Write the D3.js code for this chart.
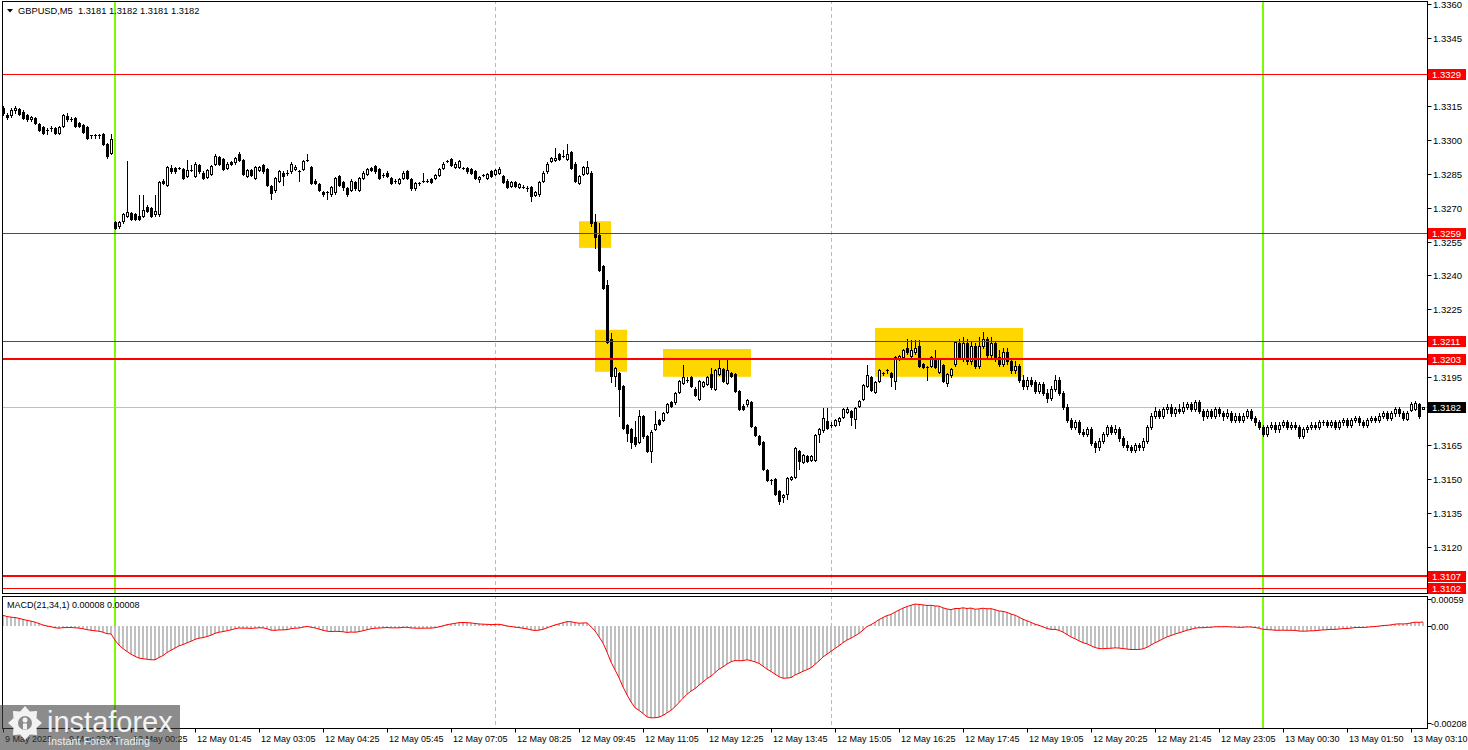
<!DOCTYPE html>
<html><head><meta charset="utf-8">
<script src="https://cdn.jsdelivr.net/npm/d3@7"></script>
<style>
body{margin:0;background:#fff;}
svg{display:block;font-family:"Liberation Sans",Arial,sans-serif;}
</style></head>
<body><svg id="c" width="1468" height="750"></svg>
<script>
// ---------------- DATA ----------------
const titleText = "GBPUSD,M5  1.3181 1.3182 1.3181 1.3182";
const macdTitle = "MACD(21,34,1) 0.00008 0.00008";
const open = [
1.3314,1.3311,1.3311,1.3313,1.33135,1.33125,1.3311,1.3309,1.33095,1.3307,
1.33055,1.33045,1.3305,1.3305,1.3303,1.3306,1.33105,1.3309,1.33095,1.33075,
1.33065,1.33055,1.3302,1.3302,1.3302,1.33025,1.3298,1.3294,1.32635,1.3262,
1.3264,1.32665,1.32675,1.3267,1.32665,1.32665,1.32705,1.327,1.3267,1.3267,
1.3282,1.328,1.32875,1.32875,1.32875,1.3287,1.3284,1.32865,1.3284,1.3289,
1.32855,1.32835,1.3285,1.32895,1.32925,1.32915,1.32875,1.329,1.329,1.32935,
1.3291,1.3284,1.32865,1.3283,1.32865,1.3289,1.3287,1.32795,1.3278,1.3282,
1.32855,1.32855,1.3286,1.3287,1.3286,1.3287,1.3291,1.3288,1.3282,1.32805,
1.3277,1.3277,1.3276,1.3277,1.3284,1.32815,1.32785,1.3278,1.32815,1.3278,
1.3283,1.3285,1.32875,1.32885,1.3287,1.32845,1.32855,1.3283,1.3282,1.3281,
1.3283,1.3286,1.32825,1.32785,1.3281,1.3282,1.3282,1.32825,1.3283,1.32845,
1.32875,1.32905,1.32915,1.3288,1.3288,1.32875,1.32875,1.3287,1.3286,1.32825,
1.32845,1.3283,1.3286,1.3285,1.32855,1.3284,1.3282,1.32795,1.32815,1.3279,
1.3279,1.32785,1.3279,1.32755,1.3276,1.3282,1.3286,1.32905,1.3291,1.32935,
1.3293,1.32915,1.32945,1.32895,1.3281,1.3285,1.32855,1.32855,1.32635,1.3258,
1.3244,1.3236,1.3212,1.31955,1.3197,1.3191,1.3174,1.3172,1.31685,1.31665,
1.3178,1.3169,1.31625,1.3172,1.3176,1.3176,1.31795,1.3184,1.3184,1.31885,
1.31925,1.3194,1.3195,1.319,1.31855,1.3191,1.3192,1.31965,1.319,1.31965,
1.31985,1.31925,1.3197,1.31965,1.3189,1.31825,1.3183,1.3184,1.3173,1.3169,
1.31665,1.3154,1.31495,1.315,1.31445,1.3142,1.31435,1.315,1.3151,1.31625,
1.31575,1.316,1.31585,1.31585,1.317,1.31715,1.31755,1.3174,1.3174,1.31755,
1.31775,1.31795,1.318,1.31765,1.31825,1.31855,1.3191,1.3195,1.31885,1.31935,
1.3197,1.3198,1.3197,1.31935,1.3203,1.3204,1.3208,1.32045,1.3206,1.3209,
1.3201,1.31995,1.32,1.3203,1.31975,1.32005,1.31925,1.3196,1.3201,1.3210,
1.3203,1.3210,1.3202,1.3209,1.3200,1.3209,1.3212,1.3205,1.3210,1.3204,
1.3201,1.3206,1.3202,1.3198,1.3200,1.3194,1.3191,1.3194,1.3193,1.3189,
1.3192,1.3188,1.3186,1.3190,1.3194,1.3188,1.3182,1.3176,1.3173,1.3175,
1.3171,1.3170,1.3172,1.3166,1.3164,1.3167,1.3170,1.3173,1.3171,1.3172,
1.3168,1.3165,1.3164,1.3163,1.3165,1.3164,1.3167,1.3173,1.3178,1.3180,
1.3178,1.3181,1.3182,1.3179,1.3181,1.3180,1.3182,1.3183,1.3181,1.3184,
1.3180,1.3178,1.3180,1.3178,1.3181,1.3179,1.3178,1.3179,1.3176,1.3178,
1.3176,1.3178,1.3180,1.3177,1.3175,1.3173,1.3170,1.3173,1.3174,1.3172,
1.3174,1.3175,1.3173,1.3174,1.3173,1.3169,1.3172,1.3173,1.3174,1.3173,
1.3175,1.3175,1.3174,1.3175,1.3173,1.3175,1.3176,1.3174,1.3176,1.3177,
1.3175,1.3174,1.3176,1.3177,1.3176,1.3178,1.3179,1.3177,1.3179,1.3181,
1.3179,1.31765,1.31805,1.3181,1.3183,1.3181];
const high = [
1.3315,1.3312,1.3314,1.3315,1.3314,1.3313,1.33115,1.33105,1.331,1.33075,
1.3306,1.3305,1.3306,1.33055,1.3306,1.33115,1.3312,1.331,1.331,1.3308,
1.3307,1.3306,1.3302,1.33025,1.33025,1.3303,1.32985,1.33025,1.3264,1.3264,
1.32675,1.32905,1.3268,1.32675,1.32755,1.32755,1.3271,1.32705,1.32755,1.3282,
1.32825,1.32885,1.3289,1.3288,1.3288,1.32875,1.3291,1.3289,1.329,1.32895,
1.3286,1.3287,1.3289,1.32935,1.3293,1.3292,1.329,1.32905,1.32925,1.32945,
1.32915,1.3287,1.3287,1.32885,1.32885,1.32895,1.32875,1.328,1.32835,1.32865,
1.3286,1.32865,1.329,1.3289,1.32865,1.3291,1.32935,1.32885,1.32825,1.3281,
1.32775,1.32775,1.32795,1.32835,1.32845,1.3282,1.3279,1.32825,1.3282,1.32835,
1.3286,1.32875,1.3288,1.3289,1.32875,1.32855,1.3286,1.32835,1.32825,1.3283,
1.3286,1.32865,1.3283,1.32815,1.32815,1.32855,1.32825,1.3283,1.3285,1.32875,
1.329,1.3291,1.3292,1.329,1.3291,1.3288,1.3288,1.32875,1.32865,1.3284,
1.3285,1.32855,1.32865,1.3287,1.3288,1.32845,1.32825,1.3282,1.3282,1.3281,
1.328,1.32795,1.32795,1.32775,1.3282,1.3286,1.329,1.32925,1.32965,1.3294,
1.32955,1.3298,1.3295,1.329,1.32845,1.32885,1.32905,1.3286,1.3267,1.3263,
1.32445,1.3238,1.32145,1.31995,1.31975,1.31915,1.31745,1.31725,1.31755,1.31805,
1.31785,1.31695,1.31715,1.318,1.31765,1.31795,1.31835,1.31845,1.31885,1.3194,
1.32005,1.3195,1.31955,1.31905,1.3194,1.31935,1.31955,1.3199,1.31985,1.32025,
1.3199,1.32025,1.31975,1.3197,1.31895,1.3183,1.31855,1.31845,1.31735,1.31695,
1.3167,1.31545,1.315,1.31505,1.3145,1.31435,1.3151,1.31515,1.3164,1.3163,
1.3161,1.31605,1.31605,1.317,1.31725,1.31815,1.31815,1.3175,1.31765,1.31775,
1.31815,1.3182,1.31805,1.3182,1.3185,1.3192,1.32005,1.31955,1.31935,1.31985,
1.31975,1.31985,1.31975,1.32045,1.3205,1.32075,1.3212,1.32115,1.32115,1.32115,
1.32015,1.32,1.32045,1.3207,1.32035,1.3201,1.3197,1.3199,1.3211,1.3212,
1.3213,1.3212,1.3211,1.3210,1.3213,1.3215,1.3213,1.3213,1.3211,1.3207,
1.3208,1.3208,1.3203,1.3202,1.3201,1.3196,1.3195,1.3195,1.3194,1.3193,
1.3193,1.3190,1.3191,1.3196,1.3195,1.3189,1.3183,1.3177,1.3176,1.3176,
1.3172,1.3173,1.3173,1.3167,1.3168,1.3171,1.3174,1.3174,1.3174,1.3173,
1.3169,1.3167,1.3165,1.3166,1.3166,1.3168,1.3174,1.3179,1.3182,1.3181,
1.3182,1.3183,1.3183,1.3182,1.3183,1.3184,1.3184,1.3184,1.3185,1.3185,
1.3181,1.3181,1.3181,1.3182,1.3182,1.3180,1.3181,1.3180,1.3179,1.3179,
1.3179,1.3181,1.3181,1.3178,1.3176,1.3174,1.3174,1.3175,1.3175,1.3175,
1.3176,1.3176,1.3175,1.3175,1.3174,1.3173,1.3174,1.3175,1.3175,1.3176,
1.3176,1.3176,1.3176,1.3176,1.3176,1.3177,1.3177,1.3177,1.3178,1.3178,
1.3176,1.3177,1.3178,1.3178,1.3179,1.3180,1.3180,1.3180,1.3182,1.3182,
1.3180,1.3180,1.3184,1.31845,1.31835,1.3182];
const low = [
1.3311,1.3309,1.331,1.3312,1.3311,1.3309,1.33085,1.33085,1.3307,1.3304,
1.33025,1.33025,1.3304,1.33025,1.33025,1.33055,1.33085,1.33085,1.33055,1.33055,
1.3303,1.33005,1.3301,1.3301,1.3301,1.32975,1.3292,1.32935,1.32605,1.3261,
1.3263,1.3266,1.32645,1.32645,1.32645,1.3266,1.3268,1.3266,1.32665,1.32665,
1.32805,1.32795,1.32855,1.32855,1.3287,1.32825,1.32835,1.3286,1.32835,1.32855,
1.32825,1.3283,1.32845,1.3289,1.3289,1.32865,1.3287,1.3289,1.32895,1.32905,
1.32845,1.32835,1.3284,1.32825,1.3286,1.32855,1.32795,1.3274,1.3277,1.32815,
1.328,1.32845,1.32855,1.32865,1.3282,1.32865,1.32905,1.32805,1.32805,1.32775,
1.3275,1.3274,1.3275,1.3276,1.32795,1.3278,1.3275,1.32775,1.3278,1.32775,
1.32825,1.32845,1.3286,1.32855,1.32825,1.32835,1.32835,1.32805,1.3281,1.32805,
1.32825,1.32825,1.3278,1.3278,1.328,1.32815,1.32815,1.3281,1.32825,1.3284,
1.3287,1.329,1.32885,1.32875,1.32875,1.3287,1.32855,1.3285,1.32825,1.32815,
1.3284,1.32825,1.32835,1.32845,1.3285,1.3281,1.32785,1.3279,1.3279,1.32785,
1.32785,1.32775,1.3273,1.3275,1.3275,1.32815,1.32855,1.329,1.32905,1.3291,
1.32925,1.3291,1.3287,1.32815,1.32805,1.32845,1.3285,1.3262,1.3252,1.3242,
1.3234,1.321,1.3193,1.3191,1.3178,1.3172,1.3167,1.31635,1.31645,1.3166,
1.3168,1.3162,1.31575,1.31715,1.3174,1.31755,1.3179,1.3182,1.3183,1.3188,
1.3192,1.3193,1.31905,1.31865,1.3185,1.31905,1.31915,1.319,1.31895,1.3196,
1.3193,1.3192,1.3195,1.31885,1.31805,1.31805,1.31825,1.3173,1.3169,1.3165,
1.3154,1.3149,1.3148,1.3143,1.3139,1.314,1.3141,1.31495,1.31505,1.31545,
1.3157,1.31575,1.3158,1.3158,1.31665,1.3171,1.3172,1.3173,1.31735,1.3174,
1.3177,1.3179,1.3174,1.31725,1.3182,1.3185,1.31905,1.3189,1.3188,1.3193,
1.3196,1.3197,1.3191,1.319,1.32025,1.32035,1.32055,1.3204,1.32055,1.31995,
1.3199,1.3194,1.31995,1.3199,1.3197,1.3193,1.3191,1.3195,1.32,1.3203,
1.3202,1.3201,1.3201,1.3199,1.3199,1.3208,1.3204,1.3204,1.3202,1.3200,
1.3200,1.3201,1.3197,1.3197,1.3193,1.3190,1.3190,1.3191,1.3188,1.3188,
1.3187,1.3184,1.3185,1.3189,1.3187,1.3181,1.3175,1.3172,1.3172,1.3170,
1.3169,1.3169,1.3165,1.3162,1.3163,1.3166,1.3169,1.3170,1.3170,1.3167,
1.3164,1.3163,1.3162,1.3162,1.3163,1.3163,1.3166,1.3172,1.3177,1.3177,
1.3177,1.3179,1.3178,1.3178,1.3179,1.3179,1.3181,1.3180,1.3180,1.3179,
1.3176,1.3177,1.3177,1.3177,1.3178,1.3176,1.3177,1.3175,1.3175,1.3175,
1.3175,1.3177,1.3176,1.3174,1.3172,1.3169,1.3169,1.3172,1.3171,1.3171,
1.3173,1.3172,1.3172,1.3172,1.3168,1.3168,1.3171,1.3172,1.3172,1.3172,
1.3174,1.3173,1.3173,1.3172,1.3172,1.3174,1.3173,1.3173,1.3175,1.3174,
1.3173,1.3173,1.3175,1.3175,1.3175,1.3177,1.3176,1.3176,1.3178,1.3178,
1.3176,1.3176,1.3180,1.31805,1.3177,1.3181];
const close = [
1.3312,1.331,1.3313,1.3314,1.33115,1.33095,1.3309,1.331,1.33075,1.33045,
1.3303,1.33045,1.3305,1.3303,1.33055,1.3311,1.3309,1.3309,1.3306,1.3306,
1.33035,1.3301,1.3302,1.3302,1.3302,1.3298,1.3293,1.33005,1.3261,1.32635,
1.3267,1.3268,1.3265,1.3265,1.3265,1.3269,1.32685,1.32665,1.32685,1.32815,
1.3281,1.3288,1.3286,1.3286,1.32875,1.3283,1.32865,1.32865,1.32895,1.3286,
1.3283,1.32865,1.32885,1.3293,1.32895,1.3287,1.32895,1.32895,1.3292,1.3291,
1.3285,1.32865,1.32845,1.3288,1.3288,1.3286,1.328,1.32765,1.3283,1.3286,
1.3284,1.32855,1.32895,1.3288,1.3286,1.32905,1.3291,1.3281,1.3281,1.3278,
1.3276,1.3277,1.3279,1.3283,1.328,1.3279,1.3276,1.3282,1.32785,1.3283,
1.32855,1.3287,1.32865,1.3286,1.3283,1.32845,1.3284,1.3281,1.3282,1.32825,
1.32855,1.3283,1.32785,1.3281,1.3281,1.3282,1.3282,1.32815,1.32845,1.3287,
1.32895,1.32905,1.3289,1.32895,1.32905,1.32875,1.3286,1.32855,1.3283,1.32835,
1.32845,1.3285,1.3284,1.32865,1.3287,1.32815,1.3279,1.32815,1.32795,1.32805,
1.3279,1.32785,1.3275,1.3277,1.32815,1.32855,1.32895,1.3292,1.3292,1.32915,
1.3293,1.32935,1.32875,1.3282,1.3284,1.3288,1.3288,1.3263,1.3257,1.32425,
1.32345,1.32105,1.31955,1.3199,1.319,1.31725,1.31705,1.31665,1.31655,1.3178,
1.3169,1.31625,1.3171,1.31745,1.31745,1.3179,1.3183,1.31825,1.3188,1.31935,
1.3195,1.3194,1.3191,1.3187,1.31935,1.3193,1.3195,1.31905,1.3198,1.3199,
1.31935,1.3198,1.31955,1.3189,1.3181,1.3181,1.3185,1.31735,1.31695,1.31655,
1.31545,1.31495,1.31495,1.31435,1.31405,1.3143,1.31505,1.3151,1.31635,1.3158,
1.31605,1.3158,1.316,1.31695,1.3172,1.3177,1.31725,1.3174,1.3176,1.3177,
1.3181,1.3181,1.31775,1.31815,1.31845,1.31915,1.3196,1.31895,1.3193,1.3198,
1.3197,1.3198,1.3195,1.3204,1.32045,1.3207,1.3206,1.3207,1.3208,1.32,
1.31995,1.31995,1.3204,1.31995,1.3203,1.31935,1.31965,1.31985,1.32105,1.3204,
1.3210,1.3202,1.3209,1.3200,1.3209,1.3212,1.3205,1.3210,1.3203,1.3201,
1.3206,1.3202,1.3198,1.3200,1.3194,1.3191,1.3194,1.3192,1.3189,1.3192,
1.3188,1.3186,1.3190,1.3194,1.3188,1.3182,1.3176,1.3173,1.3175,1.3171,
1.3170,1.3172,1.3166,1.3164,1.3167,1.3170,1.3173,1.3171,1.3172,1.3168,
1.3165,1.3164,1.3163,1.3165,1.3164,1.3167,1.3173,1.3178,1.3180,1.3178,
1.3181,1.3182,1.3179,1.3181,1.3180,1.3182,1.3183,1.3181,1.3184,1.3180,
1.3178,1.3180,1.3178,1.3181,1.3179,1.3178,1.3179,1.3176,1.3178,1.3176,
1.3178,1.3180,1.3177,1.3175,1.3173,1.3170,1.3173,1.3174,1.3172,1.3174,
1.3175,1.3173,1.3174,1.3173,1.3169,1.3172,1.3173,1.3174,1.3173,1.3175,
1.3175,1.3174,1.3175,1.3173,1.3175,1.3176,1.3174,1.3176,1.3177,1.3175,
1.3174,1.3176,1.3177,1.3176,1.3178,1.3179,1.3177,1.3179,1.3181,1.3179,
1.3177,1.3179,1.3183,1.31835,1.3178,1.3182];

const timeTickBars = [0,16,32,48,64,80,96,112,128,144,160,176,192,208,224,240,256,272,288,304,320,336,352];
const timeTickLabels = ["9 May 2025","9 May 23:00","12 May 00:25","12 May 01:45","12 May 03:05","12 May 04:25","12 May 05:45","12 May 07:05","12 May 08:25","12 May 09:45","12 May 11:05","12 May 12:25","12 May 13:45","12 May 15:05","12 May 16:25","12 May 17:45","12 May 19:05","12 May 20:25","12 May 21:45","12 May 23:05","13 May 00:30","13 May 01:50","13 May 03:10"];
const priceTicks = [1.3360,1.3345,1.3330,1.3315,1.3300,1.3285,1.3270,1.3255,1.3240,1.3225,1.3210,1.3195,1.3180,1.3165,1.3150,1.3135,1.3120,1.3105];
const levelPrices = [1.3329,1.3259,1.3211,1.3203,1.3107,1.3102];
const strongLevels = [1.3203,1.3107];
const lastPrice = 1.3182;
const dayLineBars = [28,315];
const sessionLineBars = [123,207];
const zoneStartBar = [144,148,165,218];
const zoneEndBar   = [152,156,187,255];
const zoneHigh = [1.3264,1.3216,1.32075,1.32168];
const zoneLow  = [1.32522,1.31974,1.31952,1.31952];
const macdTicks = [0.00059,0.00,-0.00208];
const macdFast = 21, macdSlow = 34;
const emaFastStart = 1.33140, emaSlowStart = 1.33115; // indicator state before first visible bar

// ---------------- LAYOUT ----------------
const barCount = close.length;
const svg = d3.select("#c");
const L = 2.5, R = 1427.5, mainTop = 1.5, mainBot = 593.5, macdTop = 596.5, macdBot = 728.5;
const x = d3.scaleLinear().domain([0, barCount-1]).range([3, 3+4*(barCount-1)]);
const y = d3.scaleLinear().domain([1.3100, 1.3360]).range([592.1, 4.1]);
const ym = d3.scaleLinear().domain([-0.00208, 0.00059]).range([722.9, 598.5]);
const AX = 9;

svg.append("rect").attr("width",1468).attr("height",750).attr("fill","#fff");
const defs = svg.append("defs");
defs.append("clipPath").attr("id","mainClip").append("rect").attr("x",L).attr("y",mainTop).attr("width",R-L).attr("height",mainBot-mainTop);
defs.append("clipPath").attr("id","macdClip").append("rect").attr("x",L).attr("y",macdTop).attr("width",R-L).attr("height",macdBot-macdTop);

const main = svg.append("g").attr("clip-path","url(#mainClip)");
const sub = svg.append("g").attr("clip-path","url(#macdClip)");

// zones
main.selectAll("rect.zone").data(zoneStartBar).join("rect").attr("class","zone")
  .attr("x",(d,i)=>x(d)).attr("width",(d,i)=>x(zoneEndBar[i])-x(d))
  .attr("y",(d,i)=>y(zoneHigh[i])).attr("height",(d,i)=>y(zoneLow[i])-y(zoneHigh[i]))
  .attr("fill","#FFD700");

// last price line
main.append("rect").attr("x",L).attr("width",R-L).attr("y",Math.round(y(lastPrice))).attr("height",1).attr("fill","#C0C0C0");

// vertical lines (both panes)
[main, sub].forEach(g=>{
  g.selectAll("rect.day").data(dayLineBars).join("rect").attr("class","day")
    .attr("x",d=>Math.round(x(d))-1).attr("width",2).attr("y",0).attr("height",750)
    .attr("fill","#7CFC00");
  g.selectAll("line.sess").data(sessionLineBars).join("line").attr("class","sess")
    .attr("x1",d=>x(d)+0.5).attr("x2",d=>x(d)+0.5).attr("y1",0).attr("y2",750)
    .attr("stroke","#7CFC00").attr("stroke-width",1).attr("stroke-dasharray","4,3");
});

// candles
const cg = main.append("g");
d3.range(barCount).forEach(i=>{
  const px = Math.round(x(i));
  const yo = y(open[i]), yc = y(close[i]), yh = y(high[i]), yl = y(low[i]);
  const th = Math.round(yh), tl = Math.round(yl);
  cg.append("rect").attr("x",px).attr("y",th).attr("width",1).attr("height",Math.max(1,tl-th+1)).attr("fill","#000");
  const top = Math.round(Math.min(yo,yc)), bot = Math.round(Math.max(yo,yc));
  if (bot - top < 1) {
    cg.append("rect").attr("x",px-1).attr("y",top).attr("width",3).attr("height",1).attr("fill","#000");
  } else if (close[i] < open[i]) {
    cg.append("rect").attr("x",px-1).attr("y",top).attr("width",3).attr("height",bot-top+1).attr("fill","#000");
  } else {
    cg.append("rect").attr("x",px-1).attr("y",top).attr("width",3).attr("height",bot-top+1).attr("fill","#000");
    if (bot-top >= 2) cg.append("rect").attr("x",px).attr("y",top+1).attr("width",1).attr("height",bot-top-1).attr("fill","#fff");
  }
});

// level lines
const isStrong = d => strongLevels.includes(d);
main.selectAll("rect.lvl").data(levelPrices).join("rect").attr("class","lvl")
  .attr("x",L).attr("width",R-L)
  .attr("y",d=>Math.round(y(d))-(isStrong(d)?1:0))
  .attr("height",d=>isStrong(d)?2:1)
  .attr("fill","#FF0000");

// MACD (computed from closes)
let ef = emaFastStart, es = emaSlowStart;
const kf = 2/(macdFast+1), ks = 2/(macdSlow+1);
const macd = close.map(c=>{ ef += (c-ef)*kf; es += (c-es)*ks; return ef-es; });
const y0 = Math.round(ym(0));
sub.selectAll("rect.h").data(macd).join("rect").attr("class","h")
  .attr("x",(d,i)=>Math.round(x(i))-1).attr("width",2)
  .attr("y",d=>Math.min(y0, ym(d))).attr("height",d=>Math.max(1,Math.abs(ym(d)-y0)))
  .attr("fill","#C0C0C0");
sub.append("path").datum(macd).attr("fill","none").attr("stroke","#FF0000").attr("stroke-width",1)
  .attr("d", d3.line().x((d,i)=>x(i)).y(d=>ym(d)));

// frames
svg.append("rect").attr("x",L).attr("y",mainTop).attr("width",R-L).attr("height",mainBot-mainTop).attr("fill","none").attr("stroke","#000").attr("shape-rendering","crispEdges");
svg.append("rect").attr("x",L).attr("y",macdTop).attr("width",R-L).attr("height",macdBot-macdTop).attr("fill","none").attr("stroke","#000").attr("shape-rendering","crispEdges");

// price axis
const hidden = [1.3330,1.3210,1.3180,1.3105];
priceTicks.forEach(p=>{
  const yy = Math.round(y(p));
  svg.append("rect").attr("x",R).attr("y",yy).attr("width",4).attr("height",1).attr("fill","#000");
  if(!hidden.includes(p)) svg.append("text").attr("x",1433).attr("y",yy+4).attr("font-size",9.5).attr("fill","#000").text(p.toFixed(4));
});
function tag(p, bg){
  const yy = Math.round(y(p));
  svg.append("rect").attr("x",1428).attr("y",yy-5).attr("width",38).attr("height",11).attr("fill",bg);
  svg.append("text").attr("x",1432).attr("y",yy+4).attr("font-size",9.5).attr("fill","#fff").text(p.toFixed(4));
}
levelPrices.forEach(p=>tag(p,"#FF0000"));
tag(lastPrice,"#000");

// macd axis
macdTicks.forEach(v=>{
  const yy = Math.round(ym(v));
  svg.append("rect").attr("x",R).attr("y",yy).attr("width",4).attr("height",1).attr("fill","#000");
  svg.append("text").attr("x",1431).attr("y",yy+4).attr("font-size",AX).attr("fill","#000").text(v===0?"0.00":v.toFixed(5));
});

// time axis
timeTickBars.forEach((b,i)=>{
  const xx = Math.round(x(b));
  svg.append("rect").attr("x",xx).attr("y",macdBot).attr("width",1).attr("height",4).attr("fill","#000");
  svg.append("text").attr("x",xx+2).attr("y",742).attr("font-size",AX).attr("fill","#000").text(timeTickLabels[i]);
});

// titles
svg.append("path").attr("d","M7,9 L13,9 L10,12.5 Z").attr("fill","#000");
svg.append("text").attr("x",18).attr("y",14).attr("font-size",9.3).attr("fill","#000").style("white-space","pre").text(titleText);
svg.append("text").attr("x",7).attr("y",608).attr("font-size",AX).attr("fill","#000").text(macdTitle);

// watermark
const wm = svg.append("g");
wm.append("rect").attr("x",0).attr("y",705).attr("width",180).attr("height",45).attr("fill","#404040").attr("opacity",0.6);
const gear = d3.range(16).map(k=>{const a=k*Math.PI/8; const r=(k%2===0)?17:12.5; return [25+r*Math.cos(a), 723+r*Math.sin(a)];});
wm.append("path").attr("d", d3.line().curve(d3.curveLinearClosed)(gear)).attr("fill","#f2f2f2");
wm.append("circle").attr("cx",25).attr("cy",723).attr("r",7).attr("fill","#8a8a8a");
wm.append("circle").attr("cx",25).attr("cy",720).attr("r",2.5).attr("fill","#f2f2f2");
wm.append("rect").attr("x",23).attr("y",723.5).attr("width",4).attr("height",6).attr("fill","#f2f2f2");
wm.append("text").attr("x",47).attr("y",732).attr("font-size",29).attr("fill","#f4f4f4").text("instaforex");
wm.append("text").attr("x",48).attr("y",745).attr("font-size",10.8).attr("fill","#eeeeee").text("Instant Forex Trading");
</script></body></html>
